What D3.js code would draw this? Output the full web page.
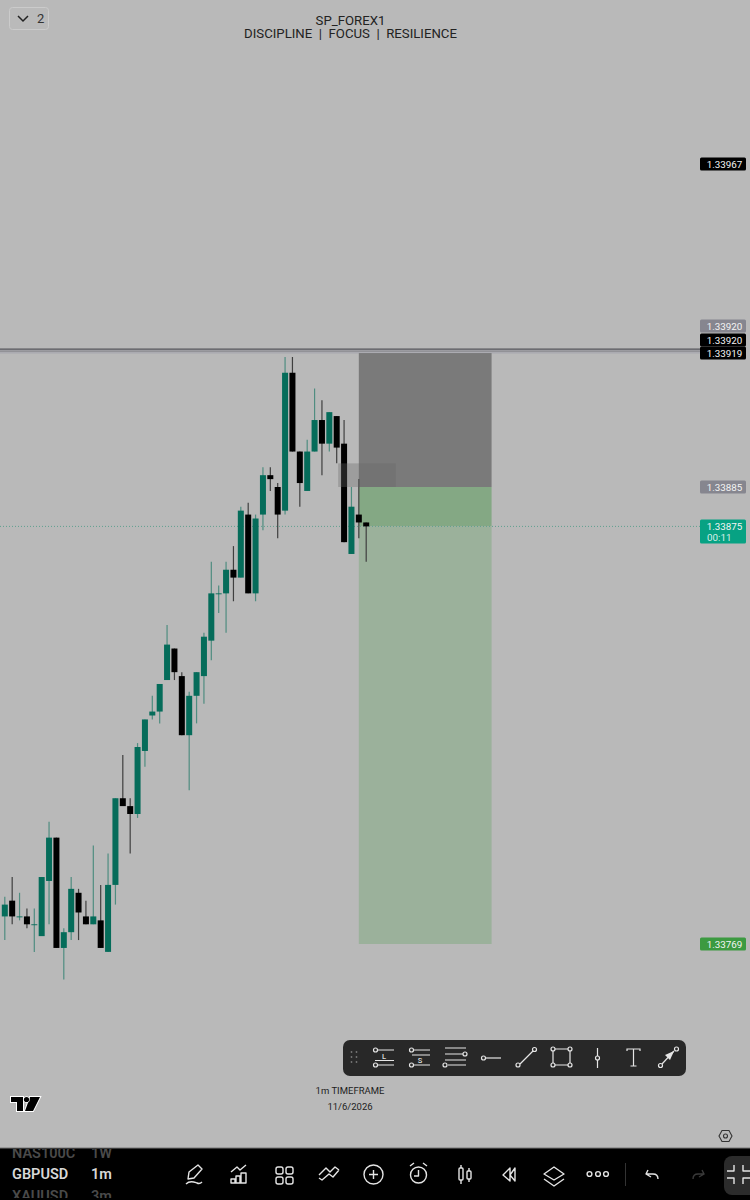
<!DOCTYPE html>
<html><head><meta charset="utf-8">
<script src="https://cdn.jsdelivr.net/npm/d3@7/dist/d3.min.js"></script>
<style>html,body{margin:0;padding:0;background:#b9b9b9}svg{display:block}text{font-family:Roboto,"Noto Sans",sans-serif}</style>
</head><body><script>
const opens =[1.33776,1.33780,1.33776,1.33776,1.33774,1.33771,1.33785,1.33796,1.33768,1.33772,1.33782,1.33776,1.33774,1.33775,1.33767,1.33784,1.33806,1.33804,1.33802,1.33818,1.33827,1.33828,1.33836,1.33844,1.33837,1.33822,1.33832,1.33837,1.33846,1.33858,1.33858,1.33864,1.33862,1.33878,1.33858,1.33878,1.33888,1.33885,1.33879,1.33914,1.33894,1.33884,1.33894,1.33902,1.33896,1.33903,1.33896,1.33868,1.33878,1.33876];
const highs =[1.33781,1.33786,1.33782,1.33778,1.33778,1.33786,1.33800,1.33796,1.33773,1.33786,1.33783,1.33780,1.33794,1.33784,1.33792,1.33806,1.33817,1.33806,1.33820,1.33826,1.33832,1.33835,1.33850,1.33844,1.33838,1.33833,1.33838,1.33848,1.33866,1.33860,1.33866,1.33870,1.33880,1.33881,1.33878,1.33890,1.33890,1.33886,1.33918,1.33918,1.33894,1.33897,1.33910,1.33907,1.33904,1.33903,1.33902,1.33885,1.33887,1.33876];
const lows  =[1.33770,1.33774,1.33775,1.33773,1.33767,1.33771,1.33774,1.33768,1.33760,1.33770,1.33770,1.33774,1.33774,1.33768,1.33767,1.33779,1.33804,1.33792,1.33801,1.33814,1.33826,1.33825,1.33836,1.33836,1.33822,1.33808,1.33825,1.33830,1.33841,1.33853,1.33848,1.33856,1.33862,1.33858,1.33856,1.33874,1.33884,1.33872,1.33878,1.33894,1.33880,1.33884,1.33894,1.33888,1.33894,1.33891,1.33871,1.33868,1.33872,1.33866];
const closes=[1.33779,1.33776,1.33776,1.33774,1.33774,1.33786,1.33796,1.33768,1.33772,1.33783,1.33777,1.33774,1.33776,1.33768,1.33784,1.33806,1.33804,1.33802,1.33819,1.33826,1.33828,1.33835,1.33845,1.33838,1.33822,1.33832,1.33838,1.33847,1.33858,1.33858,1.33864,1.33862,1.33879,1.33858,1.33877,1.33888,1.33887,1.33878,1.33914,1.33894,1.33886,1.33894,1.33902,1.33896,1.33904,1.33895,1.33871,1.33880,1.33876,1.33875];
const bullish=[1,0,1,0,1,1,1,0,1,1,0,0,1,0,1,1,0,0,1,1,1,1,1,0,0,1,1,1,1,1,1,0,1,0,1,1,0,0,1,0,0,1,1,0,1,0,0,1,0,0];
const priceLabels=["1.33967","1.33920","1.33920","1.33919","1.33885","1.33875","1.33769"];
const labelValues=[1.33967,1.33920,1.33920,1.33919,1.33885,1.33875,1.33769];
const labelFills=["#000","#86868f","#000","#000","#86868f","#07a283","#3c9a41"];
const titleLines=["SP_FOREX1","DISCIPLINE  |  FOCUS  |  RESILIENCE"];
const footerLines=["1m TIMEFRAME","11/6/2026"];
const entryPrice=1.33885, stopPrice=1.33919, targetPrice=1.33769, lastPrice=1.33875, levelA=1.33920, zoneTop=1.33891;

const W=750,H=1200;
const svg=d3.select("body").append("svg").attr("width",W).attr("height",H).attr("viewBox",`0 0 ${W} ${H}`);
const x=d3.scaleLinear().domain([0,49]).range([4.8,366.2]);
const y=d3.scaleLinear().domain([targetPrice,entryPrice]).range([944,487]);
svg.append("rect").attr("width",W).attr("height",H).attr("fill","#b9b9b9");

// top level lines
svg.append("rect").attr("x",0).attr("width",700).attr("y",y(levelA)+0.5).attr("height",4).attr("fill","#ababb1");
svg.append("line").attr("x1",0).attr("x2",700).attr("y1",y(levelA)).attr("y2",y(levelA)).attr("stroke","#55555a").attr("stroke-width",1.2);
svg.append("line").attr("x1",0).attr("x2",700).attr("y1",y(levelA)+2).attr("y2",y(levelA)+2).attr("stroke","#77777c").attr("stroke-width",0.8);

// position boxes
const bx0=x(48),bx1=x(66);
const box=(a,b,f)=>svg.append("rect").attr("x",bx0).attr("width",bx1-bx0).attr("y",y(a)).attr("height",y(b)-y(a)).attr("fill",f);
box(stopPrice,entryPrice,"#7a7a7a");
box(entryPrice,lastPrice,"#84a884");
box(lastPrice,targetPrice,"#9bb19b");
svg.append("line").attr("x1",0).attr("x2",700).attr("y1",y(lastPrice)).attr("y2",y(lastPrice)).attr("stroke","#5f9f8f").attr("stroke-width",1).attr("stroke-dasharray","1 2");

// candles
const n=opens.length, idx=d3.range(n);
const col=i=>bullish[i]?"#056c5a":"#000";
svg.append("g").selectAll("line").data(idx).join("line")
 .attr("x1",x).attr("x2",x).attr("y1",i=>y(highs[i])).attr("y2",i=>y(lows[i]))
 .attr("stroke",i=>bullish[i]?"#4f8d80":"#3f3f3f").attr("stroke-width",1.2);
svg.append("g").selectAll("rect").data(idx).join("rect")
 .attr("x",i=>x(i)-3).attr("width",6)
 .attr("y",i=>y(Math.max(opens[i],closes[i])))
 .attr("height",i=>Math.max(0.9,Math.abs(y(opens[i])-y(closes[i]))))
 .attr("fill",col);

// small translucent zone
svg.append("rect").attr("x",x(45.2)).attr("width",x(53)-x(45.2)).attr("y",y(zoneTop)).attr("height",y(entryPrice)-y(zoneTop)).attr("fill","#666").attr("fill-opacity",0.34);

// price labels; the three that collide near the level are stacked upward
const stackNudge=[0,-23,-9,0,0,0,0];
const lg=svg.append("g").selectAll("g").data(priceLabels).join("g").attr("transform",(d,i)=>`translate(700,${y(labelValues[i])+stackNudge[i]})`);
lg.append("rect").attr("x",0).attr("y",(d,i)=>i==5?-7:-6.5).attr("width",46).attr("height",(d,i)=>i==5?24:13).attr("rx",1.5).attr("fill",(d,i)=>labelFills[i]);
lg.append("text").attr("x",24.5).attr("y",4).attr("text-anchor","middle").attr("font-size",9.8).attr("fill","#f4f4f4").text(d=>d);
svg.append("text").attr("x",707).attr("y",541).attr("font-size",9.8).attr("fill","#d8efe9").text("00:11");

// header
svg.append("rect").attr("x",9.5).attr("y",7.5).attr("width",39).attr("height",22).attr("rx",3).attr("fill","#bababa").attr("stroke","#cbcbcb");
svg.append("path").attr("d","M18 16 L23 21 L28 16").attr("fill","none").attr("stroke","#222").attr("stroke-width",1.5);
svg.append("text").attr("x",37).attr("y",23).attr("font-size",13).attr("fill","#333").text("2");
svg.append("g").selectAll("text").data(titleLines).join("text").attr("x",350.5).attr("y",(d,i)=>25+i*13).attr("text-anchor","middle")
 .attr("font-size",13.2).attr("fill","#222").style("white-space","pre").text(d=>d);

// footer text
svg.append("g").selectAll("text").data(footerLines).join("text").attr("x",350).attr("y",(d,i)=>1094+i*15.5).attr("text-anchor","middle").attr("font-size",9.5).attr("fill","#222").text(d=>d);

// TV logo
svg.append("path").attr("d","M11 1097H23V1111H17V1102H11ZM30 1097H40L33 1111H25Z").attr("fill","#000").attr("stroke","#fff").attr("stroke-width",2).style("paint-order","stroke");
svg.append("circle").attr("cx",26.5).attr("cy",1099.5).attr("r",2.6).attr("fill","#000").attr("stroke","#fff").attr("stroke-width",1.2).style("paint-order","stroke");
// hex gear
svg.append("path").attr("d","M719 1136L722 1130.5H729L732 1136L729 1141.5H722Z").attr("fill","none").attr("stroke","#333").attr("stroke-width",1.1);
svg.append("circle").attr("cx",725.5).attr("cy",1136).attr("r",2).attr("fill","none").attr("stroke","#333").attr("stroke-width",1.1);

// drawing toolbar
const tb=svg.append("g");
tb.append("rect").attr("x",343).attr("y",1040).attr("width",343).attr("height",36).attr("rx",7).attr("fill","#282828");
tb.selectAll("circle.g").data(d3.cross([351.5,356.5],[1052,1057,1062])).join("circle").attr("cx",d=>d[0]).attr("cy",d=>d[1]).attr("r",0.9).attr("fill","#777");
const ic=tb.append("g").attr("fill","none").attr("stroke","#e6e6e6").attr("stroke-width",1.2);
const dot=(g,cx,cy)=>g.append("circle").attr("cx",cx).attr("cy",cy).attr("r",2).attr("fill","#282828");
const p=(g,d)=>g.append("path").attr("d",d);
p(ic,"M378 1050H394M378 1065H394M375 1060.5H394");dot(ic,375.5,1050);dot(ic,375.5,1065);
p(ic,"M414 1050H430M412 1055H430M414 1065H430");dot(ic,411.5,1050);dot(ic,411.5,1065);
p(ic,"M445 1048H466M445 1054H463M445 1060H466M448 1065H466");dot(ic,465,1054);dot(ic,445,1065);
p(ic,"M486 1058H501");dot(ic,483.5,1058);
p(ic,"M520 1064L533 1051");dot(ic,518,1065);dot(ic,534.5,1049.5);
p(ic,"M553 1049H570M553 1065H570M553 1049V1065M570 1049V1065");[[553,1049],[570,1049],[553,1065],[570,1065]].forEach(q=>dot(ic,q[0],q[1]));
p(ic,"M597.5 1048V1068");dot(ic,597.5,1058);
p(ic,"M627 1051V1049H640V1051M633.5 1049V1066M630.5 1066H636.5");
p(ic,"M662 1064L674 1051");dot(ic,660.5,1065.5);dot(ic,676.5,1049);
tb.append("path").attr("d","M674 1051L665 1055L670 1060Z").attr("fill","#e6e6e6");
tb.selectAll("text").data(["L","S"]).join("text").attr("x",(d,i)=>i?420:384).attr("y",(d,i)=>i?1063:1058.5).attr("text-anchor","middle").attr("font-size",7.5).attr("font-weight",500).attr("fill","#ddd").text(d=>d);

// bottom bar
svg.append("rect").attr("y",1148).attr("width",W).attr("height",52).attr("fill","#000");
svg.append("rect").attr("y",1147.5).attr("width",W).attr("height",1).attr("fill","#777");
svg.append("defs").append("clipPath").attr("id","bar").append("rect").attr("y",1149).attr("width",W).attr("height",49);
const bt=svg.append("g").attr("clip-path","url(#bar)").attr("font-weight",600);
[["NAS100C",12,1158,"#4a4a4a"],["1W",91,1158,"#4a4a4a"],["GBPUSD",12,1179,"#d8d8d8"],["1m",91,1179,"#d8d8d8"],["XAUUSD",12,1201,"#4a4a4a"],["3m",91,1201,"#4a4a4a"]].forEach(t=>
 bt.append("text").attr("x",t[1]).attr("y",t[2]).attr("font-size",14.5).attr("fill",t[3]).text(t[0]));
svg.append("rect").attr("x",724).attr("y",1156).attr("width",40).attr("height",39).attr("rx",8).attr("fill","#2b2b2b");
const bi=svg.append("g").attr("fill","none").attr("stroke","#e4e4e4").attr("stroke-width",1.4).attr("stroke-linejoin","round");
p(bi,"M189 1172L198 1165L202 1169L194 1178L188 1179ZM186 1184C190 1180 194 1182 197 1183C199 1184 201 1183 202 1182");
p(bi,"M231 1179H235V1183H231ZM236 1183V1176H240V1183M241 1183V1173H246V1183H231M231 1172L237 1167L240 1170L246 1165");
[[276,1167],[286,1167],[276,1177],[286,1177]].forEach(q=>bi.append("rect").attr("x",q[0]).attr("y",q[1]).attr("width",7).attr("height",7).attr("rx",2));
p(bi,"M319 1175L326 1168L330 1172L335 1167L339 1170M319 1178L322 1180L329 1174L333 1177L339 1170");
bi.append("circle").attr("cx",373.5).attr("cy",1174.5).attr("r",9.5);p(bi,"M369 1174.5H378M373.5 1170V1179");
bi.append("circle").attr("cx",418.5).attr("cy",1175).attr("r",8);p(bi,"M418.5 1170V1176H414M410 1166L414 1163M427 1166L423 1163");
bi.append("rect").attr("x",459).attr("y",1168).attr("width",4).attr("height",12).attr("rx",1);bi.append("rect").attr("x",467).attr("y",1171).attr("width",4).attr("height",8).attr("rx",1);p(bi,"M461 1165V1168M461 1180V1184M469 1168V1171M469 1179V1182");
p(bi,"M510 1168L503 1175L510 1181ZM515 1168V1181L510 1175Z");
p(bi,"M554 1167L564 1174L554 1180L544 1174ZM544 1179L554 1186L564 1179");
[589.5,598,606].forEach(c=>bi.append("circle").attr("cx",c).attr("cy",1174).attr("r",2.4));
svg.append("line").attr("x1",625.5).attr("x2",625.5).attr("y1",1163).attr("y2",1186).attr("stroke","#333");
p(bi,"M648 1170L646 1174L651 1177M646 1174H653C656 1174 658 1176 658 1179");
svg.append("path").attr("d","M702 1170L704 1174L699 1177M704 1174H698C695 1174 693 1176 693 1179").attr("fill","none").attr("stroke","#3a3a3a").attr("stroke-width",1.4);
p(bi,"M734 1165V1171H727M734 1184V1178H727M743 1165V1171H750M743 1184V1178H750");
</script></body></html>
